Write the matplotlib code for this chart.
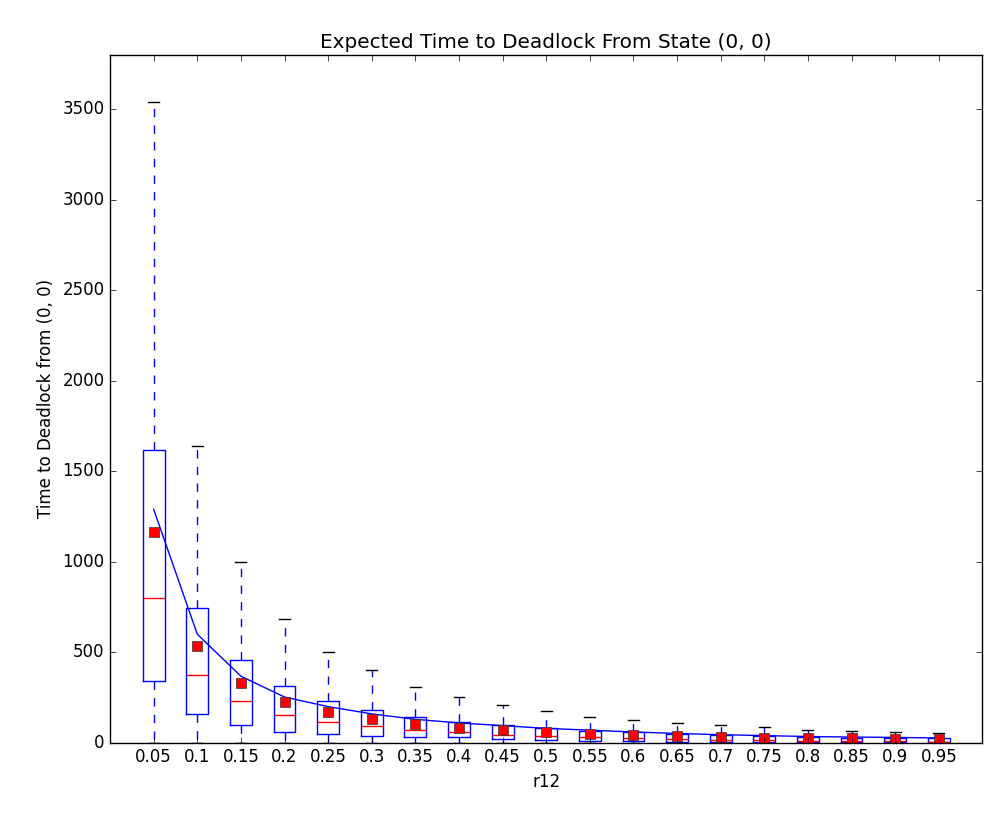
import matplotlib
matplotlib.use("Agg")
import matplotlib.pyplot as plt

plt.style.use("classic")

r12 = [0.05, 0.1, 0.15, 0.2, 0.25, 0.3, 0.35, 0.4, 0.45, 0.5,
       0.55, 0.6, 0.65, 0.7, 0.75, 0.8, 0.85, 0.9, 0.95]
q1 = [340, 160, 99, 60, 49, 38, 33, 30, 22, 16, 11, 9, 7, 6, 5, 4, 4, 3, 3]
med = [800, 373, 231, 154, 115, 93, 71, 60, 44, 38, 33, 27, 22, 16, 16, 11, 11, 11, 6]
q3 = [1615, 747, 456, 313, 231, 181, 143, 115, 99, 82, 66, 60, 49, 44, 38, 33, 27, 27, 27]
means = [1165, 533, 330, 226, 170, 130, 104, 82, 71, 60, 50, 44, 38, 33, 29, 27, 25, 22, 20]
whis_hi = [3540, 1640, 1000, 685, 500, 400, 308, 253, 209, 176, 145, 124, 108, 97, 85, 70, 64, 60, 55]
theory = [1290, 600, 368, 253, 200, 160, 130, 110, 95, 80, 70, 60, 52, 45, 40, 35, 32, 30, 27]

stats = []
for i, lab in enumerate(r12):
    stats.append({"label": str(lab), "q1": q1[i], "med": med[i], "q3": q3[i],
                  "mean": means[i], "whislo": 0, "whishi": whis_hi[i], "fliers": []})

fig = plt.figure(figsize=(10.05, 8.3), dpi=100)
ax = fig.add_axes([0.1095, 0.105, 0.868, 0.829])
pos = list(range(1, len(r12) + 1))
ax.bxp(stats, positions=pos, showmeans=True,
       meanprops=dict(marker="s", markerfacecolor="red", markeredgecolor="#333333", markersize=7))
ax.plot(pos, theory, color="blue")
ax.set_xlim(0, 20)
ax.set_ylim(0, 3800)
ax.set_xticks(pos)
ax.set_xticklabels([str(v) for v in r12])
ax.set_xlabel("r12")
ax.set_ylabel("Time to Deadlock from (0, 0)")
ax.set_title("Expected Time to Deadlock From State (0, 0)")
fig.savefig("out.png")
